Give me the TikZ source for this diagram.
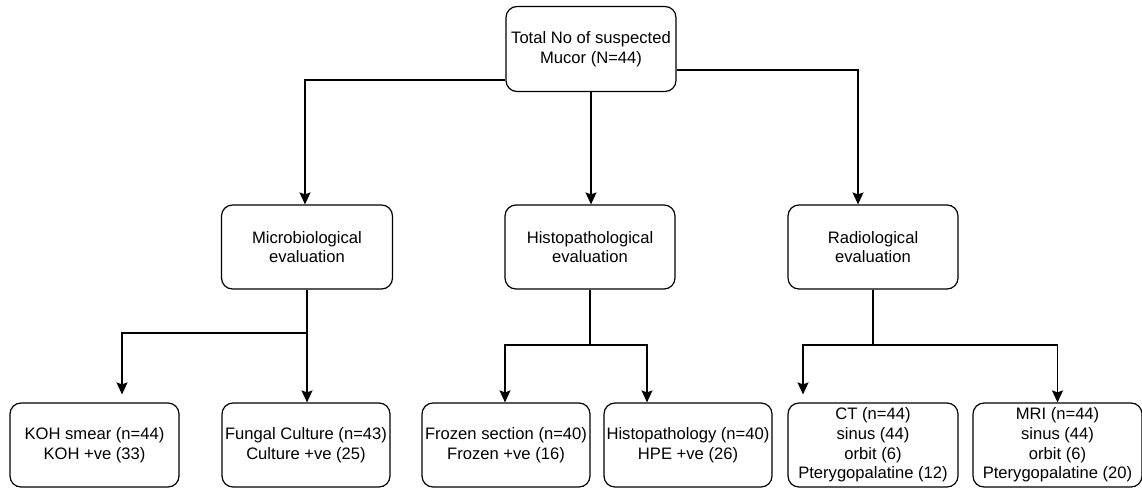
\documentclass[tikz,border=0pt]{standalone}
\usepackage{fontspec}
\setmainfont{Liberation Sans}
\usetikzlibrary{arrows.meta}
\begin{document}
\begin{tikzpicture}[x=1pt,y=-1pt,
  box/.style={draw, line width=1.2pt, rounded corners=11pt, align=center, inner sep=0pt,
    font=\fontsize{16.6}{19.7}\selectfont, minimum height=84pt},
  arr/.style={draw, line width=1.2pt, -{Stealth[length=12pt,width=11pt,inset=2pt]}},
  ln/.style={draw, line width=1.2pt}]
\useasboundingbox (0,0) rectangle (1142,490);
\node[box, minimum width=170pt, minimum height=85pt] (top) at (591,49) {Total No of suspected\\Mucor (N=44)};
\node[box, minimum width=171pt] (micro) at (307,247) {Microbiological\\evaluation};
\node[box, minimum width=170pt] (histo) at (590,247) {Histopathological\\evaluation};
\node[box, minimum width=170pt] (radio) at (873,247) {Radiological\\evaluation};
\node[box, minimum width=169pt] (koh) at (94.5,445) {KOH smear (n=44)\\KOH +ve (33)};
\node[box, minimum width=168pt] (cult) at (306,445) {Fungal Culture (n=43)\\Culture +ve (25)};
\node[box, minimum width=168pt] (froz) at (506,445) {Frozen section (n=40)\\Frozen +ve (16)};
\node[box, minimum width=168pt] (hpe) at (688,445) {Histopathology (n=40)\\HPE +ve (26)};
\node[box, minimum width=170pt] (ct) at (873,445) {CT (n=44)\\sinus (44)\\orbit (6)\\Pterygopalatine (12)};
\node[box, minimum width=169pt] (mri) at (1057.5,445) {MRI (n=44)\\sinus (44)\\orbit (6)\\Pterygopalatine (20)};
% top level
\draw[arr] ([yshift=-31pt]top.west) -| ([xshift=-2pt]micro.north);
\draw[arr] (top.south) -- (top.south |- histo.north);
\draw[arr] ([yshift=-21pt]top.east) -| ([xshift=-15pt]radio.north);
% micro
\coordinate (mj) at (307,333);
\draw[ln] (micro.south) -- (mj);
\draw[arr, shorten >=8pt] (mj) -| ([xshift=27.5pt]koh.north);
\draw[arr] (mj) -- (mj |- cult.north);
% histo
\coordinate (hj) at (590,345);
\draw[ln] (histo.south) -- (hj);
\draw[arr] (hj) -| ([xshift=-1pt]froz.north);
\draw[arr] (hj) -| ([xshift=-41pt]hpe.north);
% radio
\coordinate (rj) at (873,345);
\draw[ln] (radio.south) -- (rj);
\draw[arr, shorten >=8pt] (rj) -| ([xshift=-70pt]ct.north);
\draw[arr] (rj) -| (mri.north);
\end{tikzpicture}
\end{document}
